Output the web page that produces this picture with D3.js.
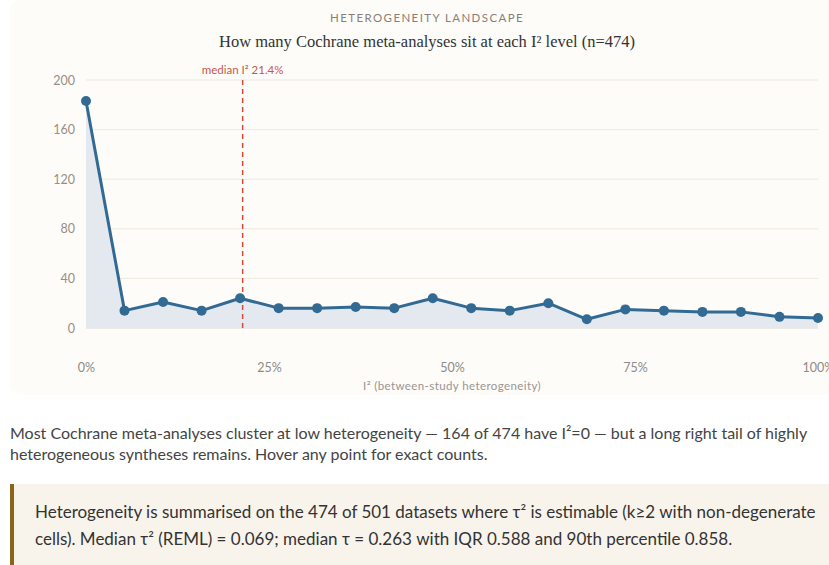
<!DOCTYPE html>
<html>
<head>
<meta charset="utf-8">
<script src="https://cdn.jsdelivr.net/npm/d3@7"></script>
<style>
  html, body { margin: 0; padding: 0; background: #ffffff; }
  body { width: 829px; height: 565px; overflow: hidden; position: relative; font-family: Lato, "Open Sans", sans-serif; }
  #wrap { position: absolute; left: 10px; top: 0; width: 860px; }
  #panel { background: #fdfcf9; border-radius: 10px; width: 834px; height: 395px; }
  #note { margin: 27px 0 0 0; font-size: 16px; line-height: 21px; color: #444; width: 830px; }
  #callout { margin-top: 20px; background: #f8f4ec; border-left: 4px solid #8b6418; padding: 14px 20px 16px 21px; font-size: 17px; line-height: 27px; color: #333; width: 805px; }
</style>
</head>
<body>
<div id="wrap">
  <div id="panel"><svg id="chart" width="834" height="395"></svg></div>
  <div id="note">Most Cochrane meta-analyses cluster at low heterogeneity — 164 of 474 have I²=0 — but a long right tail of highly heterogeneous syntheses remains. Hover any point for exact counts.</div>
  <div id="callout">Heterogeneity is summarised on the 474 of 501 datasets where τ² is estimable (k≥2 with non-degenerate cells). Median τ² (REML) = 0.069; median τ = 0.263 with IQR 0.588 and 90th percentile 0.858.</div>
</div>
<script>
const binCenters = [0, 5.26, 10.53, 15.79, 21.05, 26.32, 31.58, 36.84, 42.11, 47.37, 52.63, 57.89, 63.16, 68.42, 73.68, 78.95, 84.21, 89.47, 94.74, 100];
const counts = [183, 14, 21, 14, 24, 16, 16, 17, 16, 24, 16, 14, 20, 7, 15, 14, 13, 13, 9, 8];
const yTicks = [0, 40, 80, 120, 160, 200];
const xTicks = [0, 25, 50, 75, 100];
const medianI2 = 21.4;
const kicker = "HETEROGENEITY LANDSCAPE";
const title = "How many Cochrane meta-analyses sit at each I² level (n=474)";
const xLabel = "I² (between-study heterogeneity)";

const svg = d3.select("#chart");
const W = 834, H = 395;
const m = {left: 76, right: 26, top: 80, bottom: 67};
const x = d3.scaleLinear().domain([0, 100]).range([m.left, W - m.right]);
const y = d3.scaleLinear().domain([0, 200]).range([H - m.bottom, m.top]);
const data = binCenters.map((c, i) => ({x: c, y: counts[i]}));
const sans = "Lato, 'Open Sans', sans-serif";

svg.append("text").attr("x", W / 2).attr("y", 22).attr("text-anchor", "middle")
  .style("font-family", sans).style("font-size", "11.5px")
  .style("letter-spacing", "1.4px").style("fill", "#8a7f76").text(kicker);
svg.append("text").attr("x", W / 2).attr("y", 47).attr("text-anchor", "middle")
  .style("font-family", "'Liberation Serif', 'DejaVu Serif', serif").style("font-size", "16.5px")
  .style("fill", "#333").text(title);

// grid
svg.append("g").selectAll("line").data(yTicks).join("line")
  .attr("x1", x(0)).attr("x2", x(100)).attr("y1", d => y(d)).attr("y2", d => y(d))
  .attr("stroke", d => d === 0 ? "#dcd8d2" : "#efe8dd").attr("stroke-width", 1);

// y axis
const yAxis = d3.axisLeft(y).tickValues(yTicks).tickSize(0).tickPadding(11);
const gy = svg.append("g").attr("transform", `translate(${m.left},0)`).call(yAxis);
gy.select(".domain").remove();
gy.selectAll("text").style("font-family", sans).style("font-size", "12.5px").style("fill", "#9a8e84");

// x axis
const xAxis = d3.axisBottom(x).tickValues(xTicks).tickFormat(d => d + "%").tickSize(0).tickPadding(35);
const gx = svg.append("g").attr("transform", `translate(0,${y(0)})`).call(xAxis);
gx.select(".domain").remove();
gx.selectAll("text").style("font-family", sans).style("font-size", "12.5px").style("fill", "#8f8a86");

svg.append("text").attr("x", x(50)).attr("y", 390).attr("text-anchor", "middle")
  .style("font-family", sans).style("font-size", "11.5px")
  .style("letter-spacing", "0.4px").style("fill", "#9a9590").text(xLabel);

// area
const area = d3.area().x(d => x(d.x)).y0(y(0)).y1(d => y(d.y));
svg.append("path").datum(data).attr("d", area).attr("fill", "#e3e9ee");

// median line
svg.append("line").attr("x1", x(medianI2)).attr("x2", x(medianI2)).attr("y1", y(0)).attr("y2", y(200))
  .attr("stroke", "#d64a3b").attr("stroke-width", 1.5).attr("stroke-dasharray", "5,4");
svg.append("text").attr("x", x(medianI2)).attr("y", 74).attr("text-anchor", "middle")
  .style("font-family", sans).style("font-size", "11.5px")
  .style("fill", "#c9574a").text(`median I² ${medianI2}%`);

// line
const line = d3.line().x(d => x(d.x)).y(d => y(d.y));
svg.append("path").datum(data).attr("d", line).attr("fill", "none")
  .attr("stroke", "#336a94").attr("stroke-width", 3).attr("stroke-linejoin", "round");
svg.append("g").selectAll("circle").data(data).join("circle")
  .attr("cx", d => x(d.x)).attr("cy", d => y(d.y)).attr("r", 5).attr("fill", "#336a94");
</script>
</body>
</html>
